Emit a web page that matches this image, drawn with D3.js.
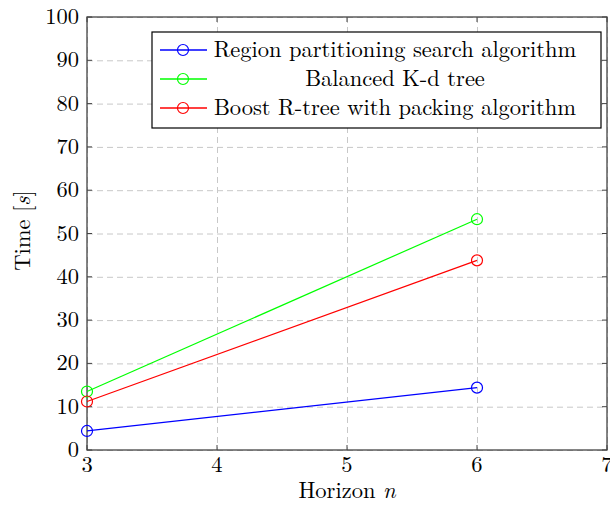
<!DOCTYPE html>
<meta charset="utf-8">
<style>
  body { margin: 0; background: #fff; }
  text { font-family: "Latin Modern Roman", "CMU Serif", "DejaVu Serif", serif; fill: #000; }
  .grid line { stroke: #c8c8c8; stroke-dasharray: 6,4; stroke-width: 1; }
  .line { fill: none; stroke-width: 1.2px; }
</style>
<script src="https://d3js.org/d3.v7.min.js"></script>
<div id="chart"></div>
<script>
  var horizon = [3, 6];
  var seriesNames = ["Region partitioning search algorithm", "Balanced K-d tree", "Boost R-tree with packing algorithm"];
  var regionSearch = [4.4, 14.4];
  var kdTree = [13.5, 53.3];
  var rTree = [11.2, 43.8];
  var colors = ["#0000ff", "#00ff00", "#ff0000"];
  var xTicks = [3, 4, 5, 6, 7];
  var yTicks = [0, 10, 20, 30, 40, 50, 60, 70, 80, 90, 100];

  var W = 610, H = 505;
  var margin = {top: 17, right: 3, bottom: 55, left: 87};
  var width = W - margin.left - margin.right,
      height = H - margin.top - margin.bottom;
  var fs = "22.5px";

  var svg = d3.select("#chart").append("svg")
      .attr("width", W).attr("height", H)
    .append("g")
      .attr("transform", "translate(" + margin.left + "," + margin.top + ")");

  var x = d3.scaleLinear().domain([3, 7]).range([0, width]);
  var y = d3.scaleLinear().domain([0, 100]).range([height, 0]);

  // grid
  svg.append("g").attr("class", "grid")
    .call(d3.axisBottom(x).tickValues(xTicks).tickSize(height).tickFormat(""))
    .call(function(g) { g.select(".domain").remove(); });
  svg.append("g").attr("class", "grid")
    .call(d3.axisLeft(y).tickValues(yTicks).tickSize(-width).tickFormat(""))
    .call(function(g) { g.select(".domain").remove(); });

  // frame
  svg.append("rect")
    .attr("width", width).attr("height", height)
    .attr("fill", "none").attr("stroke", "#444").attr("stroke-width", 1.3);

  // inward ticks on all four sides
  var tk = 5;
  xTicks.forEach(function(t) {
    svg.append("line").attr("x1", x(t)).attr("x2", x(t)).attr("y1", height).attr("y2", height - tk).attr("stroke", "#444");
    svg.append("line").attr("x1", x(t)).attr("x2", x(t)).attr("y1", 0).attr("y2", tk).attr("stroke", "#444");
  });
  yTicks.forEach(function(t) {
    svg.append("line").attr("x1", 0).attr("x2", tk).attr("y1", y(t)).attr("y2", y(t)).attr("stroke", "#444");
    svg.append("line").attr("x1", width).attr("x2", width - tk).attr("y1", y(t)).attr("y2", y(t)).attr("stroke", "#444");
  });

  // tick labels
  svg.selectAll(".xl").data(xTicks).enter().append("text")
    .attr("x", function(d) { return x(d); })
    .attr("y", height + 22)
    .attr("text-anchor", "middle")
    .style("font-size", fs)
    .text(function(d) { return d; });
  svg.selectAll(".yl").data(yTicks).enter().append("text")
    .attr("x", -8)
    .attr("y", function(d) { return y(d) + 7; })
    .attr("text-anchor", "end")
    .style("font-size", fs)
    .text(function(d) { return d; });

  // axis labels
  svg.append("text")
    .attr("x", width / 2).attr("y", height + 48)
    .attr("text-anchor", "middle")
    .style("font-size", fs)
    .html('Horizon <tspan font-style="italic">n</tspan>');
  svg.append("text")
    .attr("transform", "translate(" + (-57) + "," + (height / 2 - 3) + ") rotate(-90)")
    .attr("text-anchor", "middle")
    .style("font-size", fs)
    .html('Time [<tspan font-style="italic">s</tspan>]');

  var allSeries = [regionSearch, kdTree, rTree];
  var line = d3.line()
    .x(function(d, i) { return x(horizon[i]); })
    .y(function(d) { return y(d); });

  allSeries.forEach(function(s, k) {
    svg.append("path").datum(s)
      .attr("class", "line")
      .attr("stroke", colors[k])
      .attr("d", line);
    svg.selectAll(".m" + k).data(s).enter().append("circle")
      .attr("cx", function(d, i) { return x(horizon[i]); })
      .attr("cy", function(d) { return y(d); })
      .attr("r", 5.5)
      .attr("fill", "none")
      .attr("stroke", colors[k])
      .attr("stroke-width", 1.2);
  });

  // legend
  var lg = svg.append("g").attr("transform", "translate(" + (152 - margin.left) + "," + (32 - margin.top) + ")");
  lg.append("rect").attr("width", 449).attr("height", 96)
    .attr("fill", "#fff").attr("stroke", "#000").attr("stroke-width", 1.2);
  seriesNames.forEach(function(name, k) {
    var cy = 18 + k * 29;
    lg.append("line").attr("x1", 8).attr("x2", 55).attr("y1", cy).attr("y2", cy)
      .attr("stroke", colors[k]).attr("stroke-width", 1.5);
    lg.append("circle").attr("cx", 31).attr("cy", cy).attr("r", 5.5)
      .attr("fill", "none").attr("stroke", colors[k]).attr("stroke-width", 1.2);
    lg.append("text")
      .attr("x", 243).attr("y", cy + 7)
      .attr("text-anchor", "middle")
      .style("font-size", fs)
      .text(name);
  });
</script>
